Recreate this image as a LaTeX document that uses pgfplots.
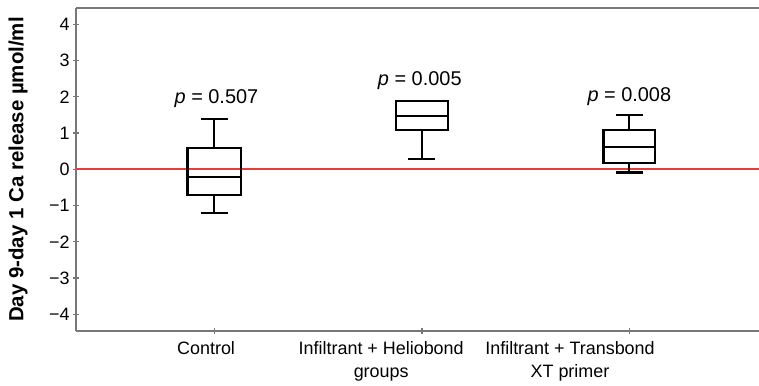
\documentclass[border=0pt]{standalone}
\usepackage{pgfplots}
\pgfplotsset{compat=1.18}
\usepgfplotslibrary{statistics}
\usepackage{fontspec}
\setmainfont{Liberation Sans}
\definecolor{axgray}{RGB}{120,120,120}
\definecolor{zred}{RGB}{230,60,60}
\begin{document}
\begin{tikzpicture}
\begin{axis}[
 scale only axis, width=683bp, height=323bp,
 xmin=0.333, xmax=3.625, ymin=-4.46, ymax=4.45,
 axis x line*=bottom, axis y line*=left,
 axis line style={axgray, line width=1.6bp, -},
 xtick={1,2,3}, xticklabels={},
 ytick={-4,-3,-2,-1,0,1,2,3,4},
 yticklabels={−4,−3,−2,−1,0,1,2,3,4},
 tick style={axgray, line width=1.3bp},
 tick align=center, major tick length=6bp,
 yticklabel style={font=\fontsize{18}{20}\selectfont},
 ylabel={Day 9-day 1 Ca release µmol/ml},
 ylabel style={font=\bfseries\fontsize{20.5}{22}\selectfont, at={(axis description cs:-0.0849,0.5)}, anchor=center},
 boxplot/draw direction=y,
 clip=false,
]
\coordinate (BL) at (rel axis cs:0,0);
\draw[axgray, line width=1.6bp] (rel axis cs:0,1) -- (rel axis cs:1,1);
\addplot[draw=zred, line width=2bp] coordinates {(0.333,0) (3.625,0)};
\addplot[draw=black, line width=2.2bp, solid, boxplot prepared={draw position=1, lower whisker=-1.21, lower quartile=-0.71, median=-0.22, upper quartile=0.58, upper whisker=1.39, box extend=0.26, whisker extend=0.13}] coordinates {};
\addplot[draw=black, line width=2.2bp, solid, boxplot prepared={draw position=2, lower whisker=0.29, lower quartile=1.08, median=1.47, upper quartile=1.89, upper whisker=1.89, box extend=0.25, whisker extend=0.13}] coordinates {};
\addplot[draw=black, line width=2.2bp, solid, boxplot prepared={draw position=3, lower whisker=-0.09, lower quartile=0.18, median=0.62, upper quartile=1.08, upper whisker=1.50, box extend=0.25, whisker extend=0.13}] coordinates {};
\node[font=\fontsize{20}{22}\selectfont] at (axis cs:1.01,1.94) {\textit{p} = 0.507};
\node[font=\fontsize{20}{22}\selectfont] at (axis cs:1.99,2.44) {\textit{p} = 0.005};
\node[font=\fontsize{20}{22}\selectfont] at (axis cs:3.0,2.0) {\textit{p} = 0.008};
\node[anchor=north, align=center, inner sep=0pt, font=\fontsize{18}{23}\selectfont] at ([yshift=-10bp]axis cs:0.96,-4.46) {Control};
\node[anchor=north, align=center, inner sep=0pt, font=\fontsize{18}{23}\selectfont] at ([yshift=-10bp]axis cs:1.804,-4.46) {Infiltrant + Heliobond\\groups};
\node[anchor=north, align=center, inner sep=0pt, font=\fontsize{18}{23}\selectfont] at ([yshift=-10bp]axis cs:2.714,-4.46) {Infiltrant + Transbond\\XT primer};
\end{axis}
\pgfresetboundingbox
\path[use as bounding box] ([xshift=-76bp,yshift=-55bp]BL) rectangle ([xshift=683bp,yshift=331bp]BL);
\end{tikzpicture}
\end{document}
